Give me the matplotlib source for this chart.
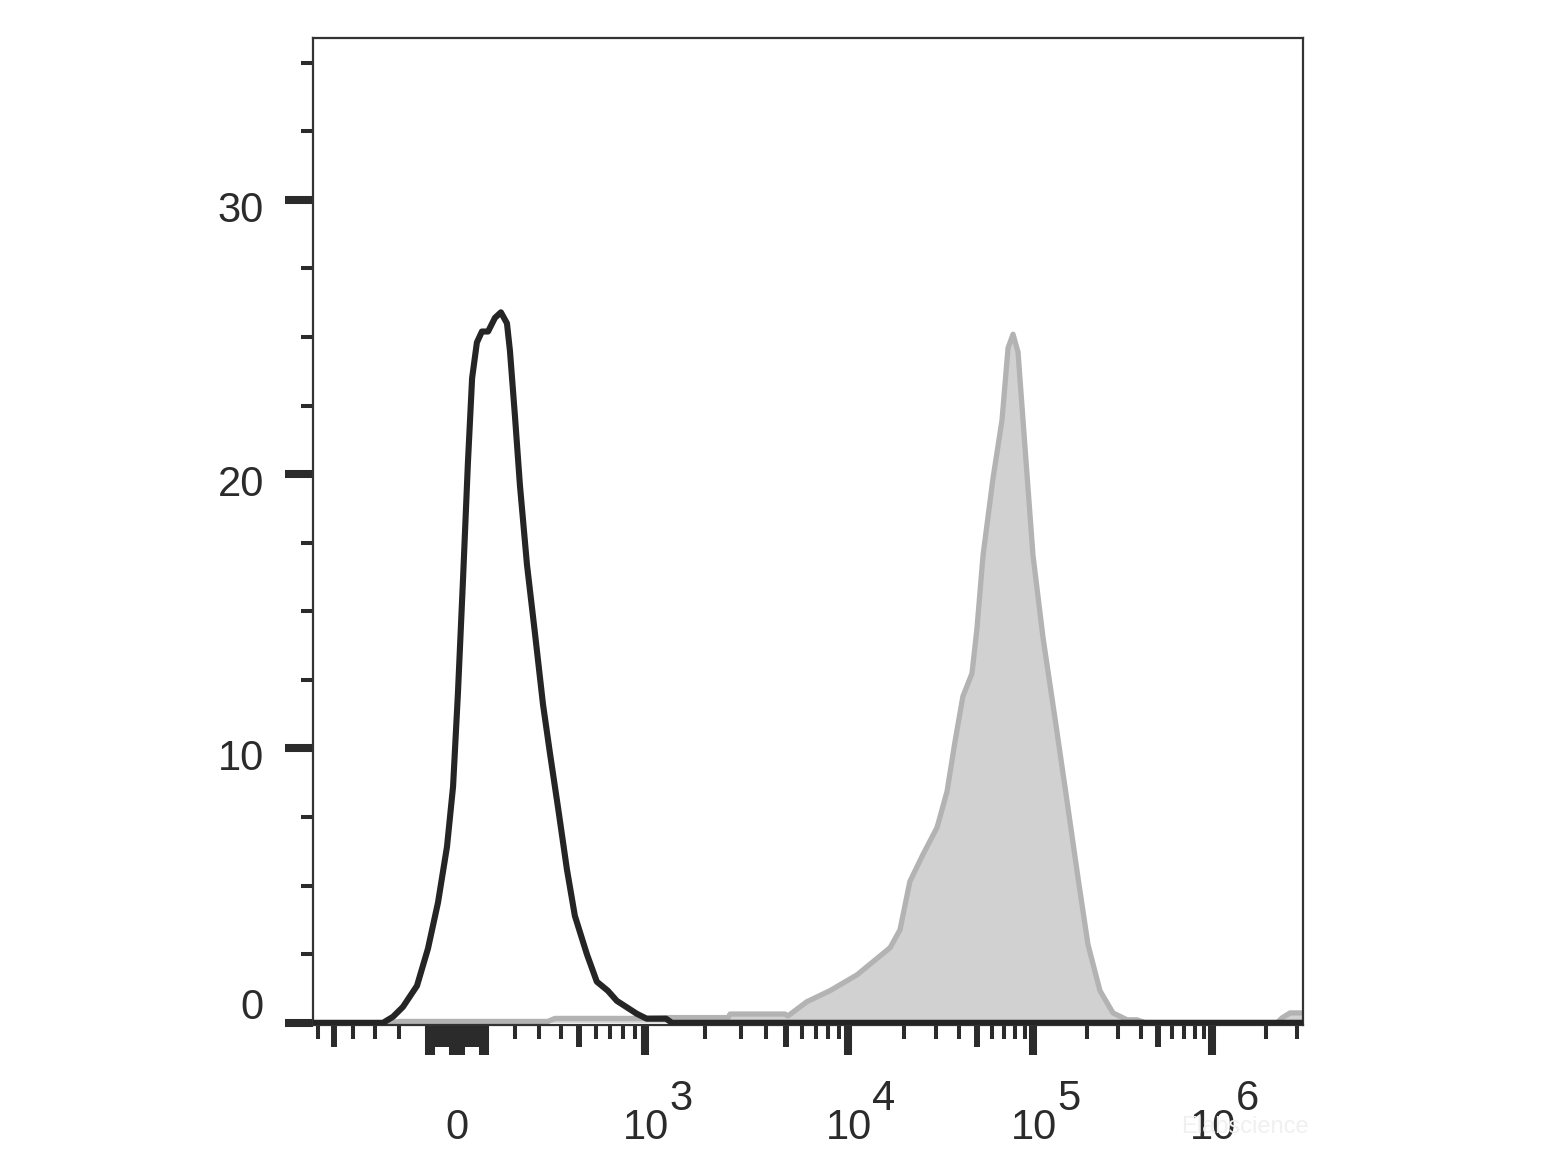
import numpy as np
import matplotlib.pyplot as plt

plt.rcParams['font.family'] = ['Liberation Sans', 'DejaVu Sans']

# ---- data (fluorescence intensity vs. count) ----
black_x = [-640, -264, -224, -186, -135, -97, -63, -33, -13, 3, 20, 36, 50, 66, 83, 104,
           128, 149, 171, 182, 201, 220, 248, 281, 316, 348, 387, 431, 474, 544, 607, 683,
           751, 921, 1020, 1280, 1370, 3.3e6]
black_y = [0, 0, 0.22, 0.58, 1.35, 2.70, 4.38, 6.42, 8.61, 12.0, 16.2, 20.4, 23.5, 24.8, 25.2, 25.2,
           25.7, 25.9, 25.5, 24.5, 22.1, 19.6, 16.7, 14.2, 11.6, 9.8, 7.8, 5.6, 3.9, 2.5, 1.5, 1.17,
           0.8, 0.33, 0.15, 0.15, 0, 0]

grey_x = [-640, -236, -197, 338, 371, 949, 1360, 2600, 2660, 4930, 5100, 6310, 8170,
          11200, 16900, 19100, 21600, 25400, 30300, 34300, 37900, 41800, 46800, 49800,
          53700, 60800, 68000, 73300, 78000, 83000, 90500, 100000, 113700, 132700, 154800,
          178400, 202900, 236700, 279800, 335100, 381100, 422400, 2.31e6, 2.46e6, 2.73e6, 3.3e6]
grey_y = [0, 0, 0.05, 0.05, 0.16, 0.16, 0.19, 0.19, 0.32, 0.32, 0.25, 0.77, 1.17,
          1.75, 2.74, 3.39, 5.15, 6.13, 7.12, 8.43, 10.26, 11.9, 12.74, 14.38,
          17.04, 19.85, 21.97, 24.6, 25.1, 24.45, 20.99, 17.04, 14.05, 11.1, 8.1,
          5.29, 2.85, 1.17, 0.36, 0.11, 0.11, 0, 0, 0.18, 0.36, 0.36]

y_major = [0, 10, 20, 30]
y_minor = [2.5, 5, 7.5, 12.5, 15, 17.5, 22.5, 25, 27.5, 32.5, 35]

x_major = [0, 1e3, 1e4, 1e5, 1e6]
x_major_exp = ['', '3', '4', '5', '6']
x_medium = [-500, 500, 5e3, 5e4, 5e5]
x_minor = [-600, -400, -300, -200, 200, 300, 400, 600, 700, 800, 900,
           2e3, 3e3, 4e3, 6e3, 7e3, 8e3, 9e3,
           2e4, 3e4, 4e4, 6e4, 7e4, 8e4, 9e4,
           2e5, 3e5, 4e5, 6e5, 7e5, 8e5, 9e5,
           2e6, 3e6]
x_lin_long = [-100, -90, -80, -20, -10, 10, 20, 80, 90, 100]
x_lin_short = [-70, -60, -50, -40, -30, 30, 40, 50, 60, 70]

# ---- biexponential-like display scale ----
W = 350.0
U_ANCH = np.array([-20.0, 0.0, np.arcsinh(1e3 / W), np.arcsinh(1e4 / W),
                   np.arcsinh(1e5 / W), np.arcsinh(1e6 / W), 20.0])
D_ANCH = np.array([457 - 20 * 106.2, 457, 645, 848, 1033, 1212,
                   1212 + (20 - np.arcsinh(1e6 / W)) * 77.8])


def fwd(x):
    return np.interp(np.arcsinh(np.asarray(x, dtype=float) / W), U_ANCH, D_ANCH)


def inv(d):
    return W * np.sinh(np.interp(np.asarray(d, dtype=float), D_ANCH, U_ANCH))


DPI = 100
fig = plt.figure(figsize=(15.6, 11.7), dpi=DPI)
ax = fig.add_axes([313 / 1560, 145 / 1170, 990 / 1560, 987 / 1170])
ax.set_xscale('function', functions=(fwd, inv))

ax.fill_between(grey_x, 0, grey_y, facecolor='#d1d1d1', edgecolor='none', zorder=1)
ax.plot(grey_x, grey_y, color='#b3b3b3', lw=3.8, solid_joinstyle='round', zorder=1.5)
ax.plot(black_x, black_y, color='#252525', lw=4.4, solid_joinstyle='round', zorder=3)

ax.set_xlim(float(inv(313)), float(inv(1303)))
ax.set_ylim(-0.08, 35.9)

ink = '#2b2b2b'
for s in ax.spines.values():
    s.set_color('#333333')
    s.set_linewidth(1.6)

# y axis ticks
ax.set_yticks(y_major)
ax.set_yticklabels([])
ax.set_yticks(y_minor, minor=True)
ax.tick_params(axis='y', which='major', length=20, width=5.8, color=ink, direction='out')
ax.tick_params(axis='y', which='minor', length=8.6, width=2.9, color=ink, direction='out')
for v in y_major:
    dy = 15 if v == 0 else -11
    ax.annotate(str(v), xy=(0, v), xycoords=('axes fraction', 'data'),
                xytext=(-49, dy), textcoords='offset pixels',
                ha='right', va='center', fontsize=30, color=ink)

# x axis ticks (drawn as marks below the axis)
ax.set_xticks([])
ax.xaxis.set_minor_locator(plt.NullLocator())
px = 1.0 / 987
tr = ax.get_xaxis_transform()
ax.vlines(x_minor, -14 * px, 0, transform=tr, colors=ink, lw=2.9, clip_on=False)
ax.vlines(x_lin_short, -22 * px, 0, transform=tr, colors=ink, lw=2.9, clip_on=False)
ax.vlines(x_lin_long, -30 * px, 0, transform=tr, colors=ink, lw=2.9, clip_on=False)
ax.vlines(x_medium, -22 * px, 0, transform=tr, colors=ink, lw=4.3, clip_on=False)
ax.vlines(x_major, -30 * px, 0, transform=tr, colors=ink, lw=5.8, clip_on=False)

for v, e in zip(x_major, x_major_exp):
    if e == '':
        ax.annotate('0', xy=(v, 0), xycoords=('data', 'axes fraction'),
                    xytext=(0, -103), textcoords='offset pixels',
                    ha='center', va='center', fontsize=30, color=ink)
    else:
        ax.annotate('10', xy=(v, 0), xycoords=('data', 'axes fraction'),
                    xytext=(1, -103), textcoords='offset pixels',
                    ha='center', va='center', fontsize=30, color=ink)
        ax.annotate(e, xy=(v, 0), xycoords=('data', 'axes fraction'),
                    xytext=(36, -74), textcoords='offset pixels',
                    ha='center', va='center', fontsize=30, color=ink)

# faint watermark, as in the original
fig.text(1245 / 1560, 1 - 1127 / 1170, 'Elabscience', fontsize=17, color='#f0f0f0',
         ha='center', va='center', zorder=0)

fig.savefig('out.png', dpi=DPI, facecolor='white')
